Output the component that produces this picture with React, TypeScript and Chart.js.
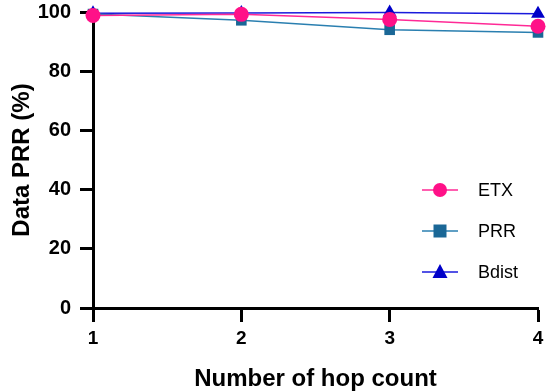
import React, { useEffect, useRef } from "react";
import { Chart, registerables } from "chart.js";

Chart.register(...registerables);

const hops = ["1", "2", "3", "4"];
const etx = [98.8, 99.2, 97.5, 95.2];
const prr = [99.3, 97.2, 94.0, 93.1];
const bdist = [99.6, 99.7, 99.8, 99.4];
const yTicks = [0, 20, 40, 60, 80, 100];

const FONT = "'Liberation Sans', Arial, sans-serif";

const legendPlugin = {
  id: "customLegend",
  afterDraw(chart: any) {
    const { ctx, chartArea } = chart;
    const items = [...chart.data.datasets].sort((a: any, b: any) => a.order - b.order);
    const lineX0 = chartArea.left + (422 - 93);
    const lineX1 = lineX0 + 36;
    const textX = lineX0 + 56;
    const startY = chartArea.top + (190 - 12);
    const gap = 41;
    ctx.save();
    items.forEach((ds: any, i: number) => {
      const y = startY + i * gap;
      ctx.strokeStyle = ds.borderColor;
      ctx.lineWidth = 1.5;
      ctx.beginPath();
      ctx.moveTo(lineX0, y);
      ctx.lineTo(lineX1, y);
      ctx.stroke();
      const cx = (lineX0 + lineX1) / 2;
      ctx.fillStyle = ds.pointBackgroundColor;
      ctx.beginPath();
      if (ds.pointStyle === "circle") {
        ctx.arc(cx, y, 7, 0, Math.PI * 2);
      } else if (ds.pointStyle === "rect") {
        ctx.rect(cx - 6.5, y - 6.5, 13, 13);
      } else {
        ctx.moveTo(cx, y - 8);
        ctx.lineTo(cx + 7.5, y + 6);
        ctx.lineTo(cx - 7.5, y + 6);
        ctx.closePath();
      }
      ctx.fill();
      ctx.fillStyle = "#000";
      ctx.font = `18px ${FONT}`;
      ctx.textBaseline = "middle";
      ctx.textAlign = "left";
      ctx.fillText(ds.label, textX, y + 1);
    });
    ctx.restore();
  },
};

export default function App() {
  const ref = useRef<HTMLCanvasElement>(null);
  useEffect(() => {
    if (!ref.current) return;
    const chart = new Chart(ref.current, {
      type: "line",
      data: {
        labels: hops,
        datasets: [
          {
            label: "Bdist",
            data: bdist,
            borderColor: "#1a1adc",
            backgroundColor: "#0000c8",
            pointBackgroundColor: "#0000c8",
            pointBorderWidth: 0,
            pointStyle: "triangle",
            pointRadius: 8,
            borderWidth: 1.5,
            order: 3,
          },
          {
            label: "PRR",
            data: prr,
            borderColor: "#2a7fb0",
            backgroundColor: "#1a6796",
            pointBackgroundColor: "#1a6796",
            pointBorderWidth: 0,
            pointStyle: "rect",
            pointRadius: 7.5,
            borderWidth: 1.5,
            order: 2,
          },
          {
            label: "ETX",
            data: etx,
            borderColor: "#ff2a96",
            backgroundColor: "#ff1188",
            pointBackgroundColor: "#ff1188",
            pointBorderWidth: 0,
            pointStyle: "circle",
            pointRadius: 7.5,
            borderWidth: 1.5,
            order: 1,
          },
        ],
      },
      options: {
        animation: false,
        responsive: false,
        clip: false as any,
        layout: { padding: { top: 12, right: 12, left: 0, bottom: 0 } },
        plugins: {
          legend: { display: false },
          tooltip: { enabled: false },
        },
        scales: {
          x: {
            type: "category",
            offset: false,
            border: { display: true, color: "#000", width: 3 },
            grid: {
              drawOnChartArea: false,
              drawTicks: true,
              tickLength: 14,
              tickWidth: 3,
              tickColor: "#000",
            },
            ticks: {
              color: "#000",
              font: { family: FONT, size: 19, weight: "bold" },
              padding: 5,
            },
            title: {
              display: true,
              text: "Number of hop count",
              color: "#000",
              font: { family: FONT, size: 24, weight: "bold" },
              padding: { top: 0, bottom: -3 },
            },
            afterFit(scale: any) {
              scale.height = 83;
              scale.paddingLeft = 0;
              scale.paddingRight = 0;
            },
          },
          y: {
            min: 0,
            max: 100,
            afterBuildTicks(scale: any) {
              scale.ticks = yTicks.map((v) => ({ value: v }));
            },
            border: { display: true, color: "#000", width: 3 },
            grid: {
              drawOnChartArea: false,
              drawTicks: true,
              tickLength: 13,
              tickWidth: 3,
              tickColor: "#000",
            },
            ticks: {
              color: "#000",
              font: { family: FONT, size: 20, weight: "bold" },
              padding: 9,
            },
            title: {
              display: true,
              text: "Data PRR (%)",
              color: "#000",
              font: { family: FONT, size: 24, weight: "bold" },
              padding: { top: 8, bottom: 0 },
            },
            afterFit(scale: any) {
              scale.width = 93;
              scale.paddingTop = 0;
              scale.paddingBottom = 0;
            },
          },
        },
      },
      plugins: [legendPlugin],
    });
    return () => chart.destroy();
  }, []);
  return (
    <div style={{ position: "fixed", left: 0, top: 0, width: 550, height: 391, background: "#fff" }}>
      <canvas ref={ref} width={550} height={391} style={{ width: 550, height: 391 }} />
    </div>
  );
}
